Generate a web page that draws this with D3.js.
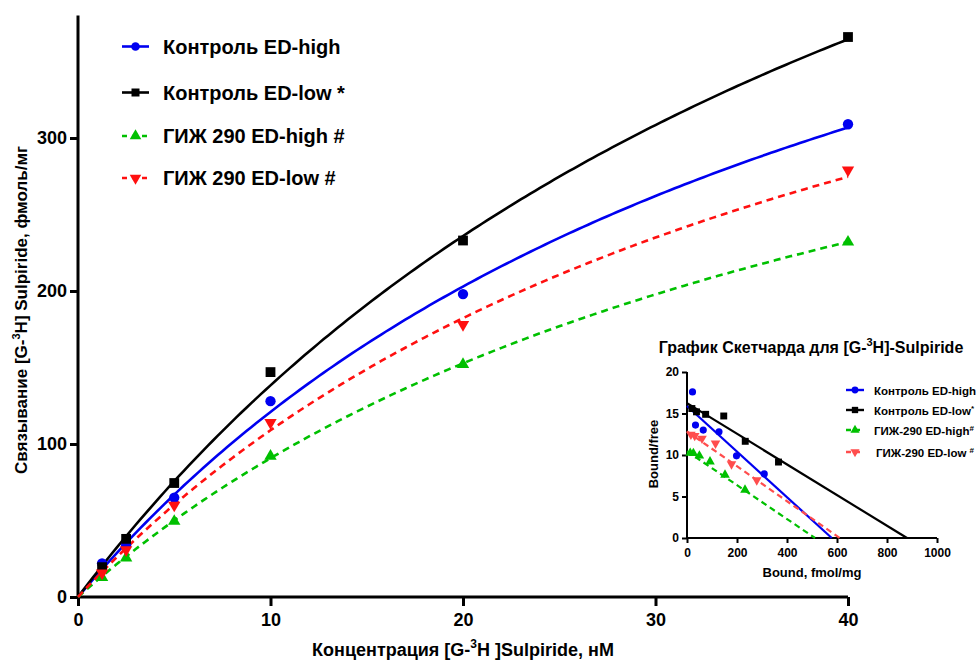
<!DOCTYPE html>
<html>
<head>
<meta charset="utf-8">
<script src="https://cdn.jsdelivr.net/npm/d3@7"></script>
<style>
  html, body { margin: 0; padding: 0; background: #fff; }
  svg { display: block; font-family: "Liberation Sans", Arial, sans-serif; font-weight: bold; }
</style>
</head>
<body>
<svg id="chart" width="980" height="661"></svg>
<script>
// Saturation binding of [G-3H]-Sulpiride: concentration (nM) vs bound (fmol/mg)
const concentrations = [1.25, 2.5, 5, 10, 20, 40];
const seriesNames = ["Контроль ED-high", "Контроль ED-low *", "ГИЖ 290 ED-high #", "ГИЖ 290 ED-low #"];
const insetNames = ["Контроль ED-high", "Контроль ED-low", "ГИЖ-290 ED-high", "ГИЖ-290 ED-low "];
const insetMarks = ["", "*", "#", "#"];
const ctrlHigh = [22, 34, 65, 128, 198, 309];
const ctrlLow = [19.5, 38, 74.5, 147, 233, 366];
const gizHigh = [12.8, 25.5, 49.5, 92, 152, 232];
const gizLow = [15.6, 30.8, 60, 114, 178, 279];
// One-site hyperbolic fits B = Bmax * C / (Kd + C)
const fitBmax = [629, 801, 482.6, 556.8];
const fitKd = [42, 47.9, 43.2, 41.1];
// Scatchard regression lines: y-intercept (bound/free) and x-intercept (Bmax)
const scatYIntercept = [15.9, 16.25, 10.45, 12.85];
const scatXIntercept = [579, 880, 512, 611];
// Axis ticks
const mainXTicks = [0, 10, 20, 30, 40];
const mainYTicks = [0, 100, 200, 300];
const insetXTicks = [0, 200, 400, 600, 800, 1000];
const insetYTicks = [0, 5, 10, 15, 20];

const seriesValues = [ctrlHigh, ctrlLow, gizHigh, gizLow];
const colors = ["#0000f0", "#000000", "#00c000", "#ff1010"];
const insetColors = ["#0000f0", "#000000", "#00c000", "#ff4d4d"];
const markers = [d3.symbolCircle, d3.symbolSquare, d3.symbolTriangle, "down"];
const dashed = [false, false, true, true];

const svg = d3.select("#chart");

function symbolPath(kind, size) {
  if (kind === "down") {
    return d3.symbol().type(d3.symbolTriangle).size(size)();
  }
  return d3.symbol().type(kind).size(size)();
}
function drawMarker(g, i, px, py, size, palette) {
  g.append("path")
    .attr("d", symbolPath(markers[i], size))
    .attr("transform", `translate(${px},${py})` + (markers[i] === "down" ? " rotate(180)" : ""))
    .attr("fill", palette[i]);
}
function styleAxis(a, width, fontSize) {
  a.select(".domain").attr("stroke", "#000").attr("stroke-width", width);
  a.selectAll(".tick line").attr("stroke", "#000").attr("stroke-width", width);
  a.selectAll(".tick text").attr("font-size", fontSize).attr("font-weight", "bold")
    .attr("font-family", "Liberation Sans, Arial, sans-serif").attr("fill", "#000");
}

// ---------- Main plot ----------
const x = d3.scaleLinear().domain([0, 40]).range([78, 848]);
const y = d3.scaleLinear().domain([0, 380]).range([597, 15.6]);

const main = svg.append("g");

const xAxis = main.append("g").attr("transform", `translate(0,${y(0)})`)
  .call(d3.axisBottom(x).tickValues(mainXTicks).tickSize(9).tickPadding(7).tickFormat(d3.format("d")));
const yAxis = main.append("g").attr("transform", `translate(${x(0)},0)`)
  .call(d3.axisLeft(y).tickValues(mainYTicks).tickSize(8).tickPadding(3).tickFormat(d3.format("d")));
styleAxis(xAxis, 3, 18);
styleAxis(yAxis, 3, 18);
yAxis.select(".domain").attr("d", `M0,${y(0)}V${y.range()[1]}`);
xAxis.select(".domain").attr("d", `M${x(0)},0H${x(40)}`);

// Fitted curves
const curveX = d3.range(0, 40.001, 0.25);
const line = d3.line().x(d => x(d[0])).y(d => y(d[1]));
seriesValues.forEach((vals, i) => {
  const pts = curveX.map(c => [c, fitBmax[i] * c / (fitKd[i] + c)]);
  main.append("path").datum(pts).attr("d", line)
    .attr("fill", "none").attr("stroke", colors[i]).attr("stroke-width", 2.6)
    .attr("stroke-dasharray", dashed[i] ? "7,5" : null);
});
// Data points
seriesValues.forEach((vals, i) => {
  const g = main.append("g");
  vals.forEach((v, k) => {
    const size = markers[i] === d3.symbolCircle ? 84 : (markers[i] === d3.symbolSquare ? 96 : 66);
    drawMarker(g, i, x(concentrations[k]), y(v), size, colors);
  });
});

// Axis titles
const xTitle = main.append("text").attr("x", 463).attr("y", 656).attr("text-anchor", "middle").attr("font-size", 18);
xTitle.append("tspan").text("Концентрация [G-");
xTitle.append("tspan").attr("dy", -8).attr("font-size", 12).text("3");
xTitle.append("tspan").attr("dy", 8).text("H ]Sulpiride, нМ");

const yTitle = main.append("text").attr("transform", "translate(27,310) rotate(-90)").attr("text-anchor", "middle").attr("font-size", 17);
yTitle.append("tspan").text("Связывание [G-");
yTitle.append("tspan").attr("dy", -7).attr("font-size", 11).text("3");
yTitle.append("tspan").attr("dy", 7).text("H] Sulpiride, фмоль/мг");

// Main legend
const legendRows = [46.5, 92.5, 136, 178];
seriesNames.forEach((name, i) => {
  const g = main.append("g");
  g.append("line").attr("x1", 122).attr("x2", 149).attr("y1", legendRows[i]).attr("y2", legendRows[i])
    .attr("stroke", colors[i]).attr("stroke-width", 2.6).attr("stroke-dasharray", dashed[i] ? "5,5" : null);
  drawMarker(g, i, 135.5, legendRows[i], markers[i] === d3.symbolSquare ? 64 : 58, colors);
  g.append("text").attr("x", 163).attr("y", legendRows[i] + 7).attr("font-size", 20).text(name);
});

// ---------- Scatchard inset ----------
const ix = d3.scaleLinear().domain([0, 1000]).range([687, 937]);
const iy = d3.scaleLinear().domain([0, 20]).range([538, 372]);
const inset = svg.append("g");

const ixAxis = inset.append("g").attr("transform", `translate(0,${iy(0)})`)
  .call(d3.axisBottom(ix).tickValues(insetXTicks).tickSize(5).tickPadding(5).tickFormat(d3.format("d")));
const iyAxis = inset.append("g").attr("transform", `translate(${ix(0)},0)`)
  .call(d3.axisLeft(iy).tickValues(insetYTicks).tickSize(5).tickPadding(3).tickFormat(d3.format("d")));
styleAxis(ixAxis, 2, 12);
styleAxis(iyAxis, 2, 12);
iyAxis.select(".domain").attr("d", `M0,${iy(0)}V${iy(20)}`);
ixAxis.select(".domain").attr("d", `M${ix(0)},0H${ix(1000)}`);

// Regression lines
seriesValues.forEach((vals, i) => {
  inset.append("line")
    .attr("x1", ix(0)).attr("y1", iy(scatYIntercept[i]))
    .attr("x2", ix(scatXIntercept[i])).attr("y2", iy(0))
    .attr("stroke", insetColors[i]).attr("stroke-width", 2.2)
    .attr("stroke-dasharray", dashed[i] ? "6,4" : null);
});
// Scatchard points: bound vs bound/free
seriesValues.forEach((vals, i) => {
  vals.forEach((v, k) => {
    const size = markers[i] === d3.symbolSquare ? 48 : 40;
    drawMarker(inset, i, ix(v), iy(v / concentrations[k]), size, insetColors);
  });
});

const iTitle = inset.append("text").attr("x", 811).attr("y", 353).attr("text-anchor", "middle").attr("font-size", 16);
iTitle.append("tspan").text("График Скетчарда для  [G-");
iTitle.append("tspan").attr("dy", -7).attr("font-size", 11).text("3");
iTitle.append("tspan").attr("dy", 7).text("H]-Sulpiride");

inset.append("text").attr("x", 812).attr("y", 577).attr("text-anchor", "middle").attr("font-size", 13).text("Bound, fmol/mg");
inset.append("text").attr("transform", "translate(658,454) rotate(-90)").attr("text-anchor", "middle").attr("font-size", 13).text("Bound/free");

const insetRows = [390, 410, 430, 452];
insetNames.forEach((name, i) => {
  const g = inset.append("g");
  g.append("line").attr("x1", 846).attr("x2", 864).attr("y1", insetRows[i]).attr("y2", insetRows[i])
    .attr("stroke", insetColors[i]).attr("stroke-width", 2.4).attr("stroke-dasharray", dashed[i] ? "5,4" : null);
  drawMarker(g, i, 855, insetRows[i], markers[i] === d3.symbolSquare ? 40 : 36, insetColors);
  const t = g.append("text").attr("x", i === 3 ? 876 : 874).attr("y", insetRows[i] + 4.5).attr("font-size", 11.5).text(name);
  if (insetMarks[i]) t.append("tspan").attr("dy", -4).attr("font-size", 8).text(insetMarks[i]);
});
</script>
</body>
</html>
